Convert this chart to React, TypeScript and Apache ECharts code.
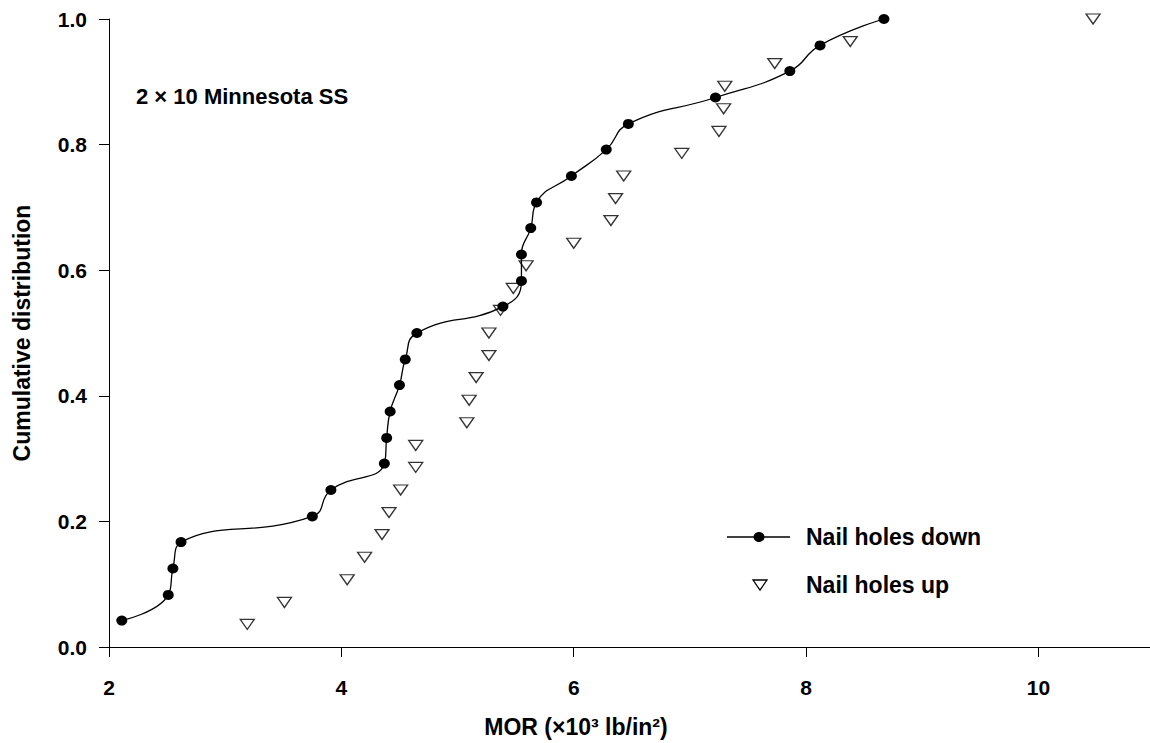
import React, { useEffect, useRef } from "react";
import * as echarts from "echarts";

// Nail holes down (filled circles, smoothed line)
const downX = [2.11, 2.51, 2.55, 2.62, 3.75, 3.91, 4.37, 4.39, 4.42, 4.5, 4.55, 4.65, 5.39, 5.55, 5.55, 5.63, 5.68, 5.98, 6.28, 6.47, 7.22, 7.86, 8.12, 8.67];
const downY = [0.042, 0.083, 0.125, 0.167, 0.208, 0.25, 0.292, 0.333, 0.375, 0.417, 0.458, 0.5, 0.542, 0.583, 0.625, 0.667, 0.708, 0.75, 0.792, 0.833, 0.875, 0.917, 0.958, 1.0];

// Nail holes up (open down-pointing triangles)
const upX = [3.19, 3.51, 4.05, 4.2, 4.35, 4.41, 4.51, 4.64, 4.64, 5.08, 5.1, 5.16, 5.27, 5.27, 5.37, 5.48, 5.59, 6.0, 6.32, 6.36, 6.43, 6.93, 7.25, 7.29, 7.3, 7.73, 8.38, 10.47];
const upY = [0.036, 0.071, 0.107, 0.143, 0.179, 0.214, 0.25, 0.286, 0.321, 0.357, 0.393, 0.429, 0.464, 0.5, 0.536, 0.571, 0.607, 0.643, 0.679, 0.714, 0.75, 0.786, 0.821, 0.857, 0.893, 0.929, 0.964, 1.0];

const seriesNames = ["Nail holes down", "Nail holes up"];
const xTicks = [2, 4, 6, 8, 10];
const yTicks = ["0.0", "0.2", "0.4", "0.6", "0.8", "1.0"];
const xTitle = "MOR (×10³ lb/in²)";
const yTitle = "Cumulative distribution";
const annotation = "2 × 10 Minnesota SS";

const FONT = "'Liberation Sans', Arial, Helvetica, sans-serif";
const TRI = "path://M0,0L14,0L7,10Z";

export default function App() {
  const ref = useRef<HTMLDivElement>(null);
  useEffect(() => {
    if (!ref.current) return;
    const chart = echarts.init(ref.current, null, { renderer: "svg" });
    const axisCommon = {
      axisLine: { show: true, lineStyle: { color: "#000", width: 1 } },
      axisTick: { show: true, length: 10, lineStyle: { color: "#000", width: 1 } },
      splitLine: { show: false },
    };
    chart.setOption({
      animation: false,
      backgroundColor: "#fff",
      grid: {
        left: 109,
        top: 19,
        right: 0,
        bottom: 96,
        containLabel: false,
        outerBoundsMode: "none",
      },
      xAxis: {
        type: "value",
        min: xTicks[0],
        max: 10.96,
        interval: 2,
        ...axisCommon,
        axisLabel: {
          margin: 30,
          fontSize: 21,
          fontWeight: "bold",
          fontFamily: FONT,
          color: "#000",
          showMaxLabel: false,
          formatter: (v: number) => (xTicks.includes(v) ? String(v) : ""),
        },
      },
      yAxis: {
        type: "value",
        min: 0,
        max: 1,
        interval: 0.2,
        ...axisCommon,
        name: yTitle,
        nameLocation: "middle",
        nameGap: 76,
        nameRotate: 90,
        nameTextStyle: { fontSize: 23, fontWeight: "bold", fontFamily: FONT, color: "#000" },
        axisLabel: {
          margin: 22,
          fontSize: 21,
          fontWeight: "bold",
          fontFamily: FONT,
          color: "#000",
          formatter: (v: number) => yTicks[Math.round(v / 0.2)] ?? "",
        },
      },
      series: [
        {
          name: seriesNames[0],
          type: "line",
          smooth: true,
          data: downX.map((x, i) => [x, downY[i]]),
          symbol: "circle",
          symbolSize: [11, 10],
          lineStyle: { color: "#000", width: 1.3 },
          itemStyle: { color: "#000" },
          z: 3,
        },
        {
          name: seriesNames[1],
          type: "scatter",
          data: upX.map((x, i) => [x, upY[i]]),
          symbol: TRI,
          symbolSize: [14, 10],
          itemStyle: { color: "#fff", borderColor: "#000", borderWidth: 1.3 },
          z: 2,
        },
      ],
      graphic: [
        {
          type: "text",
          x: 136,
          y: 96,
          style: {
            text: annotation,
            fontSize: 22,
            fontWeight: "bold",
            fontFamily: FONT,
            fill: "#000",
            verticalAlign: "middle",
          },
        },
        {
          type: "text",
          x: 576,
          y: 727,
          style: {
            text: xTitle,
            fontSize: 23,
            fontWeight: "bold",
            fontFamily: FONT,
            fill: "#000",
            align: "center",
            verticalAlign: "middle",
          },
        },
        {
          type: "line",
          shape: { x1: 727, y1: 537, x2: 790, y2: 537 },
          style: { stroke: "#000", lineWidth: 1.3 },
        },
        {
          type: "ellipse",
          shape: { cx: 759, cy: 537, rx: 5.5, ry: 5 },
          style: { fill: "#000" },
        },
        {
          type: "text",
          x: 806,
          y: 537,
          style: {
            text: seriesNames[0],
            fontSize: 23,
            fontWeight: "bold",
            fontFamily: FONT,
            fill: "#000",
            verticalAlign: "middle",
          },
        },
        {
          type: "polygon",
          shape: { points: [[753, 580], [767, 580], [760, 590]] },
          style: { fill: "#fff", stroke: "#000", lineWidth: 1.3 },
        },
        {
          type: "text",
          x: 806,
          y: 585,
          style: {
            text: seriesNames[1],
            fontSize: 23,
            fontWeight: "bold",
            fontFamily: FONT,
            fill: "#000",
            verticalAlign: "middle",
          },
        },
      ],
    });
    return () => chart.dispose();
  }, []);
  return (
    <div
      ref={ref}
      style={{ position: "fixed", left: 0, top: 0, width: 1150, height: 743, background: "#fff" }}
    />
  );
}
